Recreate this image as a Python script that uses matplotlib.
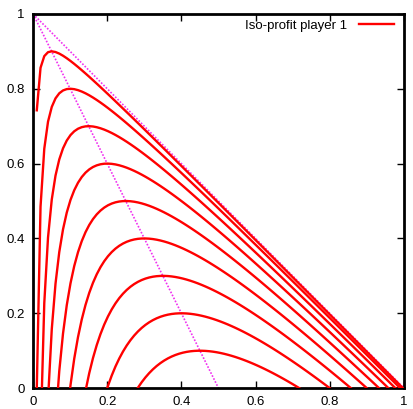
import numpy as np
import matplotlib
matplotlib.use('Agg')
import matplotlib.pyplot as plt

plt.rcParams['font.family'] = ['Liberation Sans', 'DejaVu Sans']

# profit levels of player 1 (peaks read at q2 = 0.9, 0.8, ..., 0.1)
profit_levels = [0.0025, 0.01, 0.0225, 0.04, 0.0625, 0.09, 0.1225, 0.16, 0.2025]
tick_values = [0, 0.2, 0.4, 0.6, 0.8, 1]
tick_labels = ['0', '0.2', '0.4', '0.6', '0.8', '1']

# gnuplot style sampling: 100 samples over [0, 1]
q1 = np.linspace(0, 1, 100)[1:]

fig = plt.figure(figsize=(4.13, 4.09), dpi=100)
ax = fig.add_axes([0.080, 0.051, 0.898, 0.915])

# q1 + q2 = 1 and best response q2 = 1 - 2 q1
ax.plot([0, 1], [1, 0], color='#f030f0', lw=1.2, ls=(0, (1, 1)), zorder=2)
ax.plot([0, 0.5], [1, 0], color='#f030f0', lw=1.2, ls=(0, (1, 1)), zorder=2)

for i, p in enumerate(profit_levels):
    q2 = 1 - q1 - p / q1
    ax.plot(q1, q2, color='red', lw=1.7, zorder=3,
            label='Iso-profit player 1' if i == 0 else None)

ax.set_xlim(0, 1)
ax.set_ylim(0, 1)
ax.set_xticks(tick_values)
ax.set_xticklabels(tick_labels)
ax.set_yticks(tick_values)
ax.set_yticklabels(tick_labels)
ax.tick_params(direction='in', length=5, width=1, top=True, right=True,
               labelsize=9.5, pad=6)
for s in ax.spines.values():
    s.set_linewidth(2)

leg = ax.legend(loc='upper right', frameon=False, fontsize=9.5, markerfirst=False,
                handlelength=2.6, handletextpad=0.9,
                bbox_to_anchor=(1.004, 1.016))

fig.savefig('out.png', dpi=100)
